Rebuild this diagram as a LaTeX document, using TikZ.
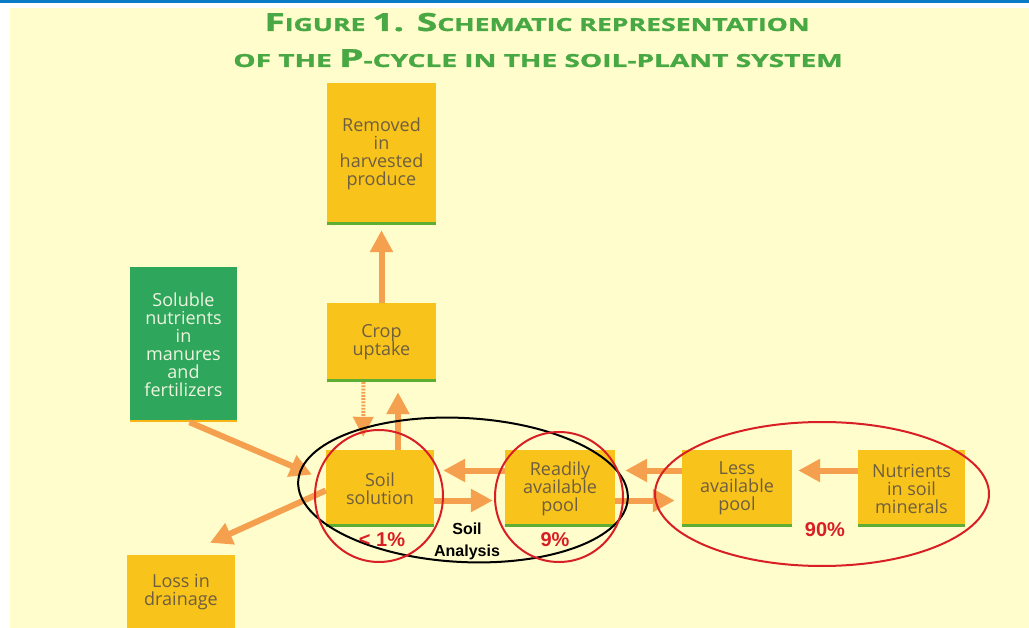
\documentclass[tikz,border=0pt]{standalone}
\usepackage{fontspec}
\setmainfont{Open Sans}
\newfontfamily\labfont{Liberation Sans}
\newfontfamily\titlefont[FakeBold=1.2]{Open Sans Bold}
\usetikzlibrary{arrows.meta}
\definecolor{bg}{HTML}{FFFDCB}
\definecolor{topblue}{HTML}{0B7BC4}
\definecolor{boxyellow}{HTML}{F8C31A}
\definecolor{boxtext}{HTML}{6E5E40}
\definecolor{gline}{HTML}{5DAE32}
\definecolor{gbox}{HTML}{2EA65B}
\definecolor{gboxtext}{HTML}{EEF5E0}
\definecolor{arrowc}{HTML}{F4A04E}
\definecolor{titlegreen}{HTML}{48A843}
\definecolor{redc}{HTML}{D91F26}
\tikzset{
  ybox/.style={fill=boxyellow, inner sep=0pt, align=center, text=boxtext, font=\fontsize{18}{18}\selectfont},
  gnode/.style={fill=gbox, inner sep=0pt, align=center, text=gboxtext, font=\fontsize{18}{18}\selectfont},
  underline/.style={draw=gline, line width=3pt},
  arr/.style={draw=arrowc, line width=6pt, -{Triangle[width=22pt,length=22pt]}},
  dotarr/.style={draw=arrowc, line width=4pt, dash pattern=on 1.8pt off 1.4pt, -{Triangle[width=20pt,length=20pt]}},
  ring/.style={draw=redc, line width=2pt},
  pct/.style={text=redc, font=\labfont\bfseries\fontsize{20}{22}\selectfont},
  ttl/.style={anchor=base, text=titlegreen, font=\titlefont, inner sep=0pt},
}
\begin{document}
\begin{tikzpicture}[x=1pt,y=-1pt]
\useasboundingbox (0,0) rectangle (1029,628);
\fill[white] (0,0) rectangle (1029,628);
\fill[bg] (10,8) rectangle (1029,628);
\fill[topblue] (0,0) rectangle (1029,3);

% title
\node[ttl] (t1) at (537,31)
  {\scalebox{1.48}[1]{{\fontsize{25}{25}\selectfont F}{\fontsize{18}{18}\selectfont IGURE }{\fontsize{25}{25}\selectfont 1. S}{\fontsize{18}{18}\selectfont CHEMATIC REPRESENTATION}}};
\node[ttl] (t2) at (538,67)
  {\scalebox{1.56}[1]{{\fontsize{18}{18}\selectfont OF THE }{\fontsize{25}{25}\selectfont P}{\fontsize{18}{18}\selectfont -CYCLE IN THE SOIL-PLANT SYSTEM}}};

% boxes
\node[ybox, minimum width=109pt, minimum height=142pt] (removed) at (381.5,154) {Removed\\in\\harvested\\produce};
\node[ybox, minimum width=109pt, minimum height=79pt] (crop) at (381.5,342.5) {Crop\\uptake};
\node[gnode, minimum width=107pt, minimum height=155pt] (soluble) at (183.5,344.5) {Soluble\\nutrients\\in\\manures\\and\\fertilizers};
\node[ybox, minimum width=108pt, minimum height=77pt] (soil) at (380,488.5) {Soil\\solution};
\node[ybox, minimum width=110pt, minimum height=77pt] (ready) at (560,488.5) {Readily\\available\\pool};
\node[ybox, minimum width=110pt, minimum height=77pt] (less) at (737,488.5) {Less\\available\\pool};
\node[ybox, minimum width=107pt, minimum height=77pt] (minerals) at (911.5,488.5) {Nutrients\\in soil\\minerals};
\node[ybox, minimum width=108pt, minimum height=75pt] (loss) at (181,592.5) {Loss in\\drainage};

\foreach \n in {removed,crop,soil,ready,less,minerals}
  \draw[underline] ([yshift=1.5pt]\n.south west) -- ([yshift=1.5pt]\n.south east);
\draw[draw=boxyellow!80!orange, line width=2pt] ([yshift=1pt]soluble.south west) -- ([yshift=1pt]soluble.south east);

% arrows
\draw[arr, shorten >=5pt] (crop.north) -- (removed.south);
\draw[dotarr, shorten >=13pt] ([xshift=-18pt]crop.south) -- ([xshift=-17pt]soil.north);
\draw[arr, shorten >=10pt] ([xshift=18pt]soil.north) -- ([xshift=16.5pt]crop.south);
\draw[arr, shorten >=9pt] ([yshift=18pt]ready.west) -- ([yshift=18pt]soil.east);
\draw[arr, shorten >=12pt] ([yshift=-12pt]soil.east) -- ([yshift=-12pt]ready.west);
\draw[arr, shorten >=10pt] ([yshift=18pt]less.west) -- ([yshift=18pt]ready.east);
\draw[arr, shorten >=7pt] ([yshift=-12pt]ready.east) -- ([yshift=-12pt]less.west);
\draw[arr, shorten >=6pt] ([yshift=18pt]minerals.west) -- ([yshift=18pt]less.east);
\draw[arr, shorten >=15pt] ([xshift=6pt]soluble.south) -- ([yshift=8pt]soil.west);
\draw[arr, shorten >=0pt] ([yshift=-2pt]soil.west) -- ([xshift=29pt,yshift=12pt]loss.north);

% rings
\draw[ring] (822,494) ellipse [x radius=167pt, y radius=72pt];
\draw[draw=black, line width=2pt, rotate around={-3:(463,490)}] (463,490) ellipse [x radius=165pt, y radius=72pt];
\draw[ring] (379,496) ellipse [x radius=64pt, y radius=66pt];
\draw[ring] (559,497) ellipse [x radius=64pt, y radius=65pt];

% labels
\node[pct] (p1) at (382,540) {< 1\%};
\node[pct] (p2) at (555,540) {9\%};
\node[pct] (p3) at (825,530) {90\%};
\node[align=center, font=\labfont\bfseries\fontsize{16}{22}\selectfont] (sa) at (467,541) {Soil\\Analysis};
\end{tikzpicture}
\end{document}
